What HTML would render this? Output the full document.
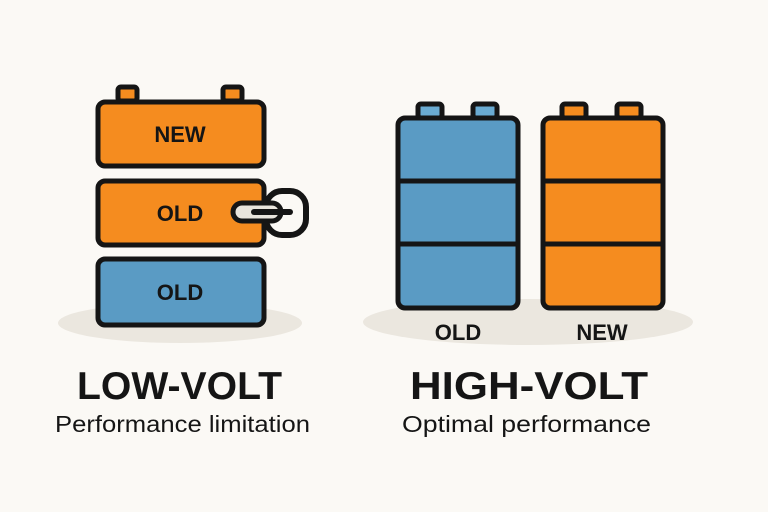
<!DOCTYPE html>
<html><head><meta charset="utf-8"><style>
html,body{margin:0;padding:0;background:#fbf9f5;}
svg{display:block}
text{font-family:"Liberation Sans",sans-serif;fill:#151515}
</style></head><body>
<svg width="768" height="512" viewBox="0 0 768 512" xmlns="http://www.w3.org/2000/svg">
<rect width="768" height="512" fill="#fbf9f5"/>
<ellipse cx="180" cy="323" rx="122" ry="20" fill="#ebe7df"/>
<ellipse cx="528" cy="322" rx="165" ry="23" fill="#ebe7df"/>
<g stroke="#151515" stroke-width="5" stroke-linejoin="round">
<rect x="118" y="87" width="19" height="14" rx="3" fill="#f58c1f"/>
<rect x="223" y="87" width="19" height="14" rx="3" fill="#f58c1f"/>
<rect x="98" y="102" width="166" height="64" rx="7" fill="#f58c1f"/>
<rect x="98" y="181" width="166" height="64" rx="7" fill="#f58c1f"/>
<rect x="98" y="259" width="166" height="66" rx="7" fill="#5a9bc4"/>
<rect x="266" y="191" width="40" height="44" rx="16" fill="none" stroke-width="6"/>
<rect x="233" y="203" width="48" height="18" rx="9" fill="#e8e4dc"/>
<line x1="254" y1="212" x2="290" y2="212" stroke-width="6" stroke-linecap="round"/>
<rect x="418" y="104" width="24" height="14" rx="3" fill="#6aabd2"/>
<rect x="473" y="104" width="24" height="14" rx="3" fill="#6aabd2"/>
<rect x="398" y="118" width="120" height="190" rx="7" fill="#5a9bc4"/>
<line x1="398" y1="181" x2="518" y2="181"/>
<line x1="398" y1="244" x2="518" y2="244"/>
<rect x="562" y="104" width="24" height="14" rx="3" fill="#f58c1f"/>
<rect x="617" y="104" width="24" height="14" rx="3" fill="#f58c1f"/>
<rect x="543" y="118" width="120" height="190" rx="7" fill="#f58c1f"/>
<line x1="543" y1="181" x2="663" y2="181"/>
<line x1="543" y1="244" x2="663" y2="244"/>
</g>
<g font-weight="bold" font-size="22" text-anchor="middle">
<text x="180" y="142">NEW</text>
<text x="180" y="221">OLD</text>
<text x="180" y="300">OLD</text>
<text x="458" y="340">OLD</text>
<text x="602" y="340">NEW</text>
</g>
<text x="77" y="399" font-size="39" font-weight="bold" textLength="205" lengthAdjust="spacingAndGlyphs">LOW-VOLT</text>
<text x="410" y="399" font-size="39" font-weight="bold" textLength="238" lengthAdjust="spacingAndGlyphs">HIGH-VOLT</text>
<text x="55" y="432" font-size="23" textLength="255" lengthAdjust="spacingAndGlyphs">Performance limitation</text>
<text x="402" y="432" font-size="23" textLength="249" lengthAdjust="spacingAndGlyphs">Optimal performance</text>
</svg>
</body></html>
